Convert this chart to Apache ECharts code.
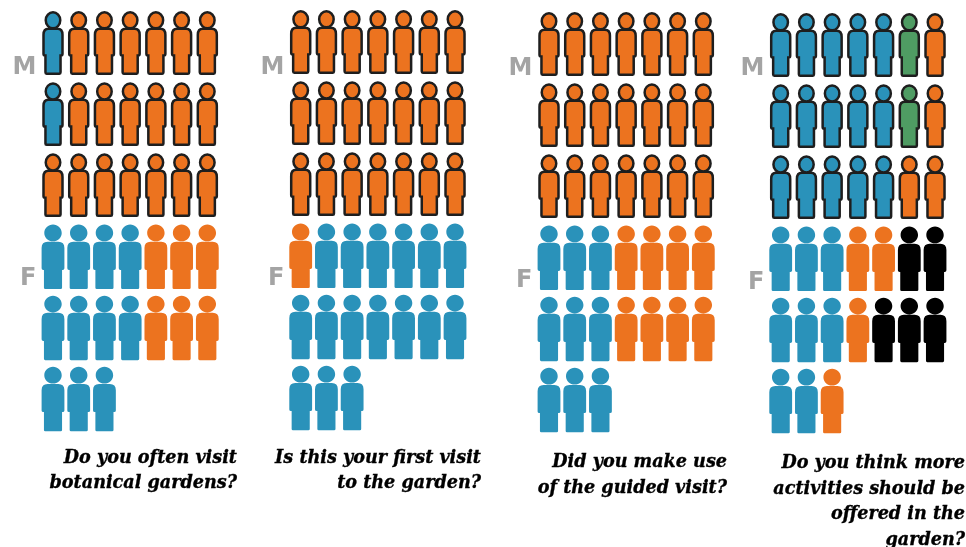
<!DOCTYPE html>
<html>
<head>
<meta charset="utf-8">
<style>
html,body{margin:0;padding:0;background:#fff;overflow:hidden;}
#chart{width:966px;height:547px;filter:blur(0.7px);}
</style>
<script src="https://cdn.jsdelivr.net/npm/echarts@6/dist/echarts.min.js"></script>
</head>
<body>
<div id="chart"></div>
<script>
// B = blue, O = orange, G = green, K = black
const q1Rows = ['BOOOOOO','BOOOOOO','OOOOOOO','BBBBOOO','BBBBOOO','BBB'];
const q2Rows = ['OOOOOOO','OOOOOOO','OOOOOOO','OBBBBBB','BBBBBBB','BBB'];
const q3Rows = ['OOOOOOO','OOOOOOO','OOOOOOO','BBBOOOO','BBBOOOO','BBB'];
const q4Rows = ['BBBBBGO','BBBBBGO','BBBBBOO','BBBOOKK','BBBOKKK','BBO'];
const q1Text = ['Do you often visit','botanical gardens?'];
const q2Text = ['Is this your first visit','to the garden?'];
const q3Text = ['Did you make use','of the guided visit?'];
const q4Text = ['Do you think more','activities should be','offered in the','garden?'];
const sexLabels = ['M','F'];
const maleRowCount = 3;

const codes = 'BOGK';
const palette = ['#2a92ba','#ec731f','#4f9c63','#000000'];
const person = 'M8,25 C8,11 20,0 34,0 C48,0 60,11 60,25 C60,39 48,50 34,50 C20,50 8,39 8,25 Z ' +
  'M18,51 H50 Q68,51 68,70 V130 Q68,135 63,135 H61 V188 Q61,192 57,192 H11 Q7,192 7,188 V135 H5 Q0,135 0,130 V70 Q0,51 18,51 Z';

const colW = 25.72, rowH = 71.1;
const panels = [
  {rows:q1Rows, text:q1Text, x0:53,    y0:43.5, tx:237, ty:458,   lx:36.5, my:67.5, fy:279},
  {rows:q2Rows, text:q2Text, x0:300.7, y0:42.5, tx:481, ty:458,   lx:284.5, my:67.5, fy:279},
  {rows:q3Rows, text:q3Text, x0:549,   y0:44.5, tx:727, ty:462.5, lx:532.5, my:68.5, fy:280.5},
  {rows:q4Rows, text:q4Text, x0:780.7, y0:45.5, tx:965, ty:463.5, lx:764.5, my:69,   fy:282.5}
];

function renderPerson(params, api) {
  const c = api.coord([api.value(0), api.value(1)]);
  const male = api.value(1) < maleRowCount;
  const w = male ? 19 : 22.8, h = male ? 61.3 : 64.5, dy = male ? -0.5 : 0;
  return {
    type:'path',
    shape:{pathData:person, x:c[0]-w/2, y:c[1]-h/2+dy, width:w, height:h, layout:'cover'},
    style:{fill:palette[api.value(2)], stroke:male ? '#1e1e1e' : null, lineWidth:male ? 2.5 : 0}
  };
}

const grid = [], xAxis = [], yAxis = [], series = [], graphic = [];
panels.forEach((p, i) => {
  grid.push({left:p.x0 - colW/2, top:p.y0 - rowH/2, width:colW*7, height:rowH*6});
  xAxis.push({type:'value', gridIndex:i, min:-0.5, max:6.5, show:false});
  yAxis.push({type:'value', gridIndex:i, min:-0.5, max:5.5, inverse:true, show:false});
  const data = [];
  p.rows.forEach((row, r) => {
    [...row].forEach((code, c) => data.push([c, r, codes.indexOf(code)]));
  });
  series.push({type:'custom', xAxisIndex:i, yAxisIndex:i, data, renderItem:renderPerson, silent:true, clip:false});
  sexLabels.forEach((label, k) => {
    graphic.push({type:'text', x:p.lx, y:k ? p.fy : p.my, style:{text:label, fill:'#a4a4a4', align:'right', verticalAlign:'middle',
      font:'bold 24px "DejaVu Sans"'}});
  });
  p.text.forEach((line, k) => {
    graphic.push({type:'text', x:p.tx, y:p.ty + k*25.6, style:{text:line, fill:'#000', stroke:'#000', lineWidth:0.35, align:'right', verticalAlign:'middle',
      font:'italic bold 17.6px "DejaVu Serif"'}});
  });
});

const chart = echarts.init(document.getElementById('chart'), null, {renderer:'canvas'});
chart.setOption({animation:false, backgroundColor:'#fff', grid, xAxis, yAxis, series, graphic});
</script>
</body>
</html>
